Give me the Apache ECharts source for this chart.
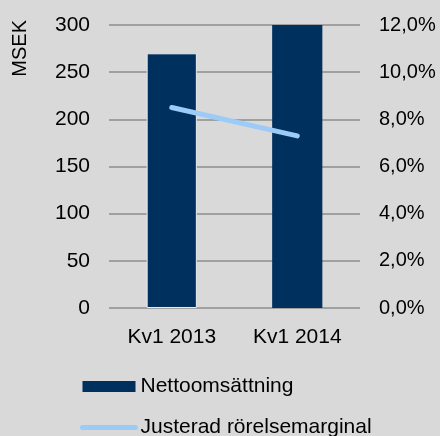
<!DOCTYPE html>
<html>
<head>
<meta charset="utf-8">
<script src="https://cdn.jsdelivr.net/npm/echarts@6/dist/echarts.min.js"></script>
<style>
  html, body { margin: 0; padding: 0; background: #d9d9d9; }
  #chart { width: 440px; height: 436px; }
</style>
</head>
<body>
<div id="chart"></div>
<script>
// data
const categories = ['Kv1 2013', 'Kv1 2014'];
const nettoomsattning = [270, 300];        // MSEK
const rorelsemarginal = [8.5, 7.3];        // %
const leftTicks = { min: 0, max: 300, interval: 50 };
const rightTicks = { min: 0, max: 12, interval: 2 };

const font = '"Liberation Sans", Arial, sans-serif';
const textColor = '#000';

const myChart = echarts.init(document.getElementById('chart'));
const options = {
    backgroundColor: '#d9d9d9',
    animation: false,
    textStyle: { fontFamily: font, color: textColor },
    grid: {
        left: 109,
        right: 80,
        top: 25,
        bottom: 128
    },
    graphic: [{
        type: 'text',
        left: 10,
        top: 20,
        rotation: Math.PI / 2,
        style: {
            text: 'MSEK',
            font: '20px ' + font,
            fill: textColor
        }
    }],
    legend: {
        orient: 'vertical',
        left: 80,
        top: 376,
        height: 80,
        padding: 0,
        itemWidth: 53,
        itemHeight: 11,
        itemGap: 20,
        textStyle: { fontSize: 21, lineHeight: 20, color: textColor, fontFamily: font },
        data: [
            { name: 'Nettoomsättning', icon: 'rect' },
            { name: 'Justerad rörelsemarginal', itemStyle: { opacity: 0 }, lineStyle: { width: 5 } }
        ]
    },
    xAxis: {
        type: 'category',
        data: categories,
        axisLine: { show: false },
        axisTick: { show: false },
        axisLabel: { fontSize: 21, color: textColor, margin: 19 }
    },
    yAxis: [
        {
            type: 'value',
            min: leftTicks.min,
            max: leftTicks.max,
            interval: leftTicks.interval,
            axisLine: { show: false },
            axisTick: { show: false },
            axisLabel: { fontSize: 21, color: textColor, margin: 19 },
            splitLine: { lineStyle: { color: '#8c8c8c', width: 1.5 } }
        },
        {
            type: 'value',
            min: rightTicks.min,
            max: rightTicks.max,
            interval: rightTicks.interval,
            axisLine: { show: false },
            axisTick: { show: false },
            axisLabel: {
                fontSize: 20,
                color: textColor,
                margin: 19,
                formatter: (v) => v.toFixed(1).replace('.', ',') + '%'
            },
            splitLine: { show: false }
        }
    ],
    series: [
        {
            name: 'Nettoomsättning',
            type: 'bar',
            yAxisIndex: 0,
            barWidth: '40%',
            itemStyle: { color: '#00305e' },
            data: nettoomsattning.map((v, i) => i === 0
                ? { value: v, itemStyle: { borderColor: '#ececec', borderWidth: 1 } }
                : v)
        },
        {
            name: 'Justerad rörelsemarginal',
            type: 'line',
            yAxisIndex: 1,
            symbol: 'none',
            lineStyle: { color: '#9dcbf7', width: 5, cap: 'round' },
            itemStyle: { color: '#9dcbf7' },
            data: rorelsemarginal
        }
    ]
};
myChart.setOption(options);
</script>
</body>
</html>
